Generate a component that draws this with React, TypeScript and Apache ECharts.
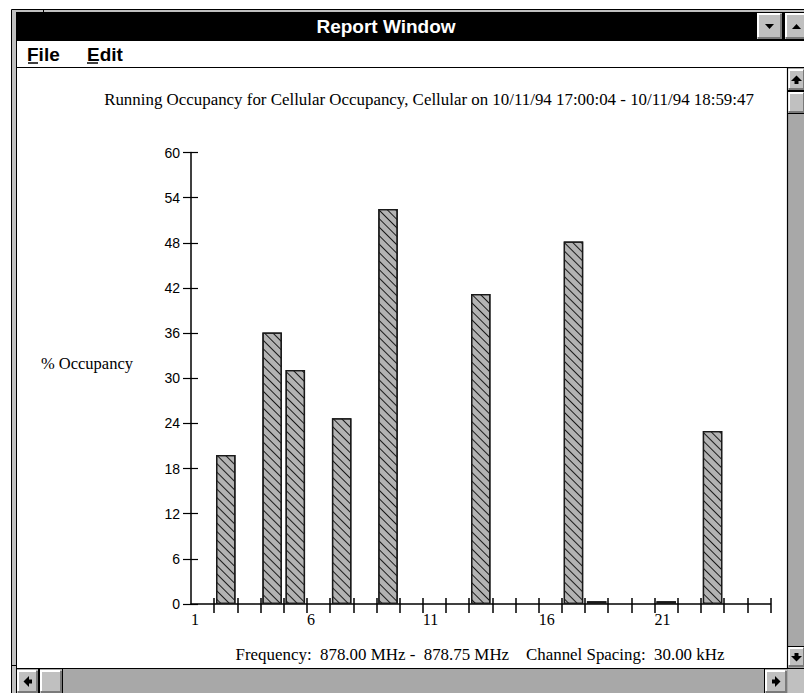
import React, { useEffect, useRef } from "react";
import * as echarts from "echarts";

// ---- data ----
const channels = [2, 4, 5, 7, 9, 13, 17, 18, 21, 23];
const occupancy = [19.8, 36.1, 31.1, 24.7, 52.5, 41.2, 48.2, 0.35, 0.35, 23.0];
const xLabelValues = [1, 6, 11, 16, 21];
const xTickValues = [2, 3, 4, 5, 6, 7, 8, 9, 10, 11, 12, 13, 14, 15, 16, 17, 18, 19, 20, 21, 22, 23, 24, 25, 26];
const chartTitle =
  "Running Occupancy for Cellular Occupancy, Cellular on 10/11/94 17:00:04 - 10/11/94 18:59:47";
const footerText = "Frequency:  878.00 MHz -  878.75 MHz    Channel Spacing:  30.00 kHz";
const yAxisName = "% Occupancy";
const windowTitle = "Report Window";

const SERIF = "Liberation Serif";
const SANS = "Liberation Sans";
const FACE = "#c0c0c0";
const TRACK = "#a8a8a8";

function button(x: number, y: number, w: number, h: number): any[] {
  return [
    { type: "rect", z: -5, shape: { x, y, width: w, height: h }, style: { fill: FACE } },
    {
      type: "polyline",
      z: -4,
      shape: { points: [[x + 1, y + h - 2], [x + 1, y + 1], [x + w - 2, y + 1]] },
      style: { stroke: "#fff", lineWidth: 2, fill: null },
    },
    {
      type: "polyline",
      z: -4,
      shape: { points: [[x + 1, y + h - 1], [x + w - 1, y + h - 1], [x + w - 1, y + 1]] },
      style: { stroke: "#7a7a7a", lineWidth: 2, fill: null },
    },
  ];
}

function hline(x1: number, x2: number, y: number, w = 1, c = "#000", z = -3): any {
  return { type: "line", z, shape: { x1, y1: y, x2, y2: y }, style: { stroke: c, lineWidth: w } };
}
function vline(x: number, y1: number, y2: number, w = 1, c = "#000", z = -3): any {
  return { type: "line", z, shape: { x1: x, y1, x2: x, y2 }, style: { stroke: c, lineWidth: w } };
}
function txt(x: number, y: number, text: string, family: string, size: number, opts: any = {}): any {
  return {
    type: "text",
    z: 5,
    x,
    y,
    style: {
      text,
      fill: opts.fill || "#000",
      fontFamily: family,
      fontSize: size,
      fontWeight: opts.bold ? "bold" : "normal",
      align: opts.align || "left",
      verticalAlign: "middle",
    },
  };
}

function chrome(): any[] {
  const els: any[] = [];
  // outer frame
  els.push({ type: "rect", z: -10, shape: { x: 11.5, y: 9.5, width: 800, height: 700 }, style: { fill: FACE, stroke: "#000", lineWidth: 1 } });
  els.push(vline(43.5, 9, 12));
  els.push(hline(11, 16, 665.5));
  // title bar
  els.push({ type: "rect", z: -9, shape: { x: 16, y: 12, width: 790, height: 29 }, style: { fill: "#000" } });
  els.push(txt(386, 26.5, windowTitle, SANS, 19, { fill: "#fff", bold: true, align: "center" }));
  els.push(...button(757, 13, 25, 26));
  els.push(...button(785, 13, 22, 26));
  els.push({ type: "polygon", z: 1, shape: { points: [[765, 24], [774, 24], [769.5, 29]] }, style: { fill: "#000" } });
  els.push({ type: "polygon", z: 1, shape: { points: [[792, 29], [801, 29], [796.5, 24]] }, style: { fill: "#000" } });
  // menu bar
  els.push({ type: "rect", z: -8, shape: { x: 17, y: 41, width: 790, height: 26 }, style: { fill: "#fff" } });
  els.push(txt(27, 54, "File", SANS, 19, { bold: true }));
  els.push(txt(87, 54, "Edit", SANS, 19, { bold: true }));
  els.push(hline(28, 38, 63, 1.5));
  els.push(hline(87, 98, 63, 1.5));
  els.push(hline(16, 804, 67.5, 1.2));
  // client
  els.push({ type: "rect", z: -8, shape: { x: 17, y: 68, width: 770, height: 600 }, style: { fill: "#fff" } });
  els.push(vline(16.5, 12, 693, 1));
  // vertical scrollbar
  els.push({ type: "rect", z: -7, shape: { x: 788, y: 68, width: 16, height: 600 }, style: { fill: TRACK } });
  els.push(vline(787.5, 68, 668, 1.2));
  els.push(...button(788, 69, 17, 21));
  els.push(hline(788, 804, 90.5));
  els.push(...button(788, 92, 17, 21));
  els.push(hline(788, 804, 91.5));
  els.push(hline(788, 804, 113.5));
  els.push(...button(788, 647, 17, 20));
  els.push(hline(788, 804, 646.5));
  els.push({ type: "polygon", z: 1, shape: { points: [[791, 81], [796.5, 75.5], [802, 81]] }, style: { fill: "#000" } });
  els.push({ type: "rect", z: 1, shape: { x: 794.5, y: 80, width: 4, height: 4 }, style: { fill: "#000" } });
  els.push({ type: "polygon", z: 1, shape: { points: [[791, 656], [796.5, 661.5], [802, 656]] }, style: { fill: "#000" } });
  els.push({ type: "rect", z: 1, shape: { x: 794.5, y: 653, width: 4, height: 4 }, style: { fill: "#000" } });
  // horizontal scrollbar
  els.push({ type: "rect", z: -7, shape: { x: 17, y: 669, width: 771, height: 24 }, style: { fill: TRACK } });
  els.push(hline(16, 804, 668.5, 1.2));
  els.push(...button(17, 670, 21, 23));
  els.push(vline(38.5, 669, 693));
  els.push(...button(40, 670, 22, 23));
  els.push(vline(39.5, 669, 693));
  els.push(vline(62.5, 669, 693));
  els.push(...button(765, 670, 22, 23));
  els.push(vline(764.5, 669, 693));
  els.push({ type: "rect", z: -6, shape: { x: 788, y: 669, width: 16, height: 24 }, style: { fill: FACE } });
  els.push({ type: "polygon", z: 1, shape: { points: [[29, 676], [23.5, 681.5], [29, 687]] }, style: { fill: "#000" } });
  els.push({ type: "rect", z: 1, shape: { x: 28, y: 679.5, width: 4, height: 4 }, style: { fill: "#000" } });
  els.push({ type: "polygon", z: 1, shape: { points: [[775, 676], [780.5, 681.5], [775, 687]] }, style: { fill: "#000" } });
  els.push({ type: "rect", z: 1, shape: { x: 772, y: 679.5, width: 4, height: 4 }, style: { fill: "#000" } });
  // chart texts
  els.push(txt(429, 99, chartTitle, SERIF, 16.9, { align: "center" }));
  els.push(txt(133, 363, yAxisName, SERIF, 16.5, { align: "right" }));
  els.push(txt(480, 654, footerText, SERIF, 16.9, { align: "center" }));
  return els;
}

export default function App() {
  const ref = useRef<HTMLDivElement>(null);
  useEffect(() => {
    if (!ref.current) return;
    const chart = echarts.init(ref.current, null, { renderer: "svg" });
    const data = channels.map((c, i) => [c + 0.5, occupancy[i]]);
    const xCommon = { type: "value", min: 1, max: 26, position: "bottom", splitLine: { show: false } };
    const yCommon = { type: "value", min: 0, max: 60, interval: 6, position: "left", splitLine: { show: false } };
    chart.setOption({
      animation: false,
      backgroundColor: "#fff",
      grid: { left: 191, right: 33.5, top: 152.6, bottom: 89, containLabel: false },
      xAxis: [
        {
          ...xCommon,
          axisLine: { show: true, lineStyle: { color: "#000", width: 1.5 } },
          axisTick: { show: true, length: 9, inside: false, customValues: xTickValues, lineStyle: { color: "#000", width: 1.5 } },
          axisLabel: { show: true, customValues: xLabelValues, align: "left", margin: 7, color: "#000", fontFamily: SERIF, fontSize: 16 },
        },
        {
          ...xCommon,
          axisLine: { show: false },
          axisTick: { show: true, length: 6, inside: true, customValues: xTickValues, lineStyle: { color: "#000", width: 1.5 } },
          axisLabel: { show: false },
        },
      ],
      yAxis: [
        {
          ...yCommon,
          axisLine: { show: true, lineStyle: { color: "#000", width: 1.5 } },
          axisTick: { show: true, length: 8, inside: false, lineStyle: { color: "#000", width: 1.2 } },
          axisLabel: { show: true, margin: 11, color: "#000", fontFamily: SANS, fontSize: 14 },
        },
        {
          ...yCommon,
          axisLine: { show: false },
          axisTick: { show: true, length: 7, inside: true, lineStyle: { color: "#000", width: 1.2 } },
          axisLabel: { show: false },
        },
      ],
      graphic: { elements: chrome() },
      series: [
        {
          type: "bar",
          xAxisIndex: 0,
          yAxisIndex: 0,
          data,
          barWidth: 19.5,
          z: 3,
          itemStyle: {
            color: "#b3b3b3",
            borderColor: "#1a1a1a",
            borderWidth: 1.3,
            decal: {
              symbol: "rect",
              symbolSize: 1,
              dashArrayX: [1, 0],
              dashArrayY: [1, 4.5],
              rotation: Math.PI / 4,
              color: "#1a1a1a",
            },
          },
        },
      ],
    });
    return () => chart.dispose();
  }, []);
  return (
    <div
      ref={ref}
      style={{ position: "fixed", left: 0, top: 0, width: 804, height: 693 }}
    />
  );
}
